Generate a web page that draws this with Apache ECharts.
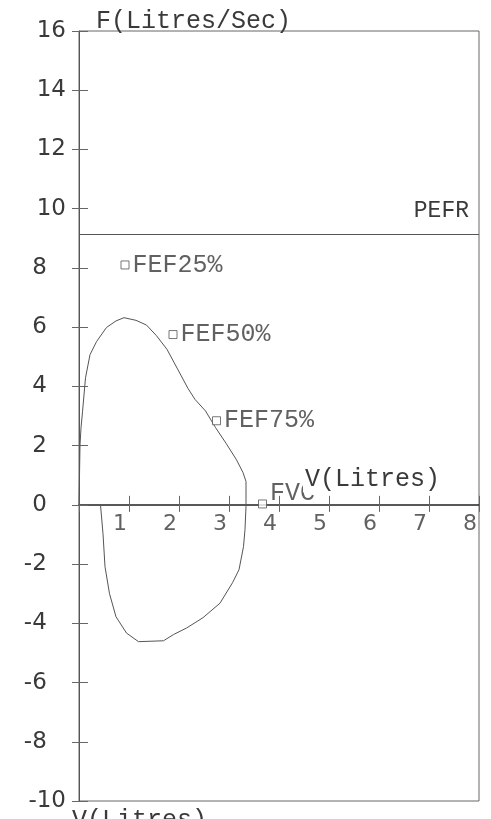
<!DOCTYPE html>
<html>
<head>
<meta charset="utf-8">
<script src="https://cdn.jsdelivr.net/npm/echarts@6.0.0/dist/echarts.min.js"></script>
<style>
  html, body { margin: 0; background: #fff; }
  #chart { width: 491px; height: 819px; }
</style>
</head>
<body>
<div id="chart"></div>
<script>
// expiratory limb of the loop (volume in litres, flow in litres/sec)
const expVolume = [0, 0.01, 0.02, 0.04, 0.07, 0.13, 0.22, 0.35, 0.55, 0.74, 0.90, 1.14, 1.35, 1.55, 1.76, 1.97, 2.18, 2.32, 2.53, 2.73, 2.94, 3.15, 3.28, 3.34, 3.34];
const expFlow = [0, 1.0, 2.02, 2.6, 3.14, 4.29, 5.07, 5.51, 5.99, 6.21, 6.32, 6.23, 6.07, 5.71, 5.25, 4.59, 3.93, 3.56, 3.17, 2.61, 2.08, 1.52, 1.09, 0.79, 0.08];

// inspiratory limb, drawn back from the end of expiration
const insVolume = [3.34, 3.32, 3.29, 3.20, 3.07, 2.82, 2.48, 2.15, 1.89, 1.69, 1.19, 0.95, 0.74, 0.61, 0.52, 0.48, 0.43];
const insFlow = [-0.05, -0.83, -1.41, -2.19, -2.63, -3.32, -3.81, -4.16, -4.38, -4.59, -4.62, -4.33, -3.78, -3.0, -2.09, -0.98, 0];

const markerNames = ["FEF25%", "FEF50%", "FEF75%", "FVC"];
const markerVolume = [0.92, 1.88, 2.75, 3.67];
const markerFlow = [8.1, 5.75, 2.84, 0.03];

const pefrFlow = 9.13;

const xTicks = [0, 1, 2, 3, 4, 5, 6, 7, 8];
const yTicks = [-10, -8, -6, -4, -2, 0, 2, 4, 6, 8, 10, 12, 14, 16];

const mono = '"Liberation Mono", "Courier New", monospace';
const sans = '"DejaVu Sans", sans-serif';
const ink = "#3a3a3a";

const loop = expVolume
  .map((v, i) => [v, expFlow[i]])
  .concat(insVolume.map((v, i) => [v, insFlow[i]]));

const markers = markerNames.map((name, i) => ({
  name,
  value: [markerVolume[i], markerFlow[i]],
  label: name === "FVC" ? { offset: [0, -11] } : undefined,
}));

// volume tick labels hang under the zero line, not under the frame
const xTickLabels = xTicks.filter((v) => v > 0).map((v) => [v, 0]);

const chart = echarts.init(document.getElementById("chart"));

const axisRange = (ticks) => ({
  type: "value",
  min: ticks[0],
  max: ticks[ticks.length - 1],
  interval: ticks[1] - ticks[0],
  splitLine: { show: false },
});

chart.setOption({
  backgroundColor: "#fff",
  animation: false,
  grid: {
    left: 79,
    right: 12,
    top: 31,
    bottom: 18,
    show: true,
    borderColor: "#666",
    borderWidth: 1,
    containLabel: false,
    outerBoundsMode: "none",
  },
  xAxis: [
    {
      ...axisRange(xTicks),
      axisLine: { onZero: true, lineStyle: { color: "#222", width: 1.5 } },
      axisTick: { show: true, inside: true, length: 9, lineStyle: { color: "#666" } },
      axisLabel: { show: false },
    },
    {
      ...axisRange(xTicks),
      position: "bottom",
      axisLine: { show: false, onZero: true },
      axisTick: { show: true, length: 7, lineStyle: { color: "#666" } },
      axisLabel: { show: false },
    },
  ],
  yAxis: [
    {
      ...axisRange(yTicks),
      axisLine: { show: true, lineStyle: { color: "#555", width: 1 } },
      axisTick: { show: true, length: 7, lineStyle: { color: "#666" } },
      axisLabel: {
        margin: 13,
        color: ink,
        fontFamily: sans,
        fontSize: 23,
        // single digits sit one column further left, like the printout
        formatter: (v) => (Math.abs(v) < 10 ? v + "\u2007\u2009" : String(v)),
      },
    },
    {
      ...axisRange(yTicks),
      position: "left",
      axisLine: { show: false },
      axisTick: { show: true, inside: true, length: 9, lineStyle: { color: "#666" } },
      axisLabel: { show: false },
    },
  ],
  graphic: [
    {
      type: "text",
      z: 100,
      x: 96,
      y: 21,
      style: { text: "F(Litres/Sec)", font: "25px " + mono, fill: ink, align: "left", verticalAlign: "middle" },
    },
    {
      type: "text",
      z: 100,
      x: 303,
      y: 479,
      style: {
        text: "V(Litres)",
        font: "25px " + mono,
        fill: ink,
        align: "left",
        verticalAlign: "middle",
        backgroundColor: "#fff",
        padding: [0, 2, 2, 2],
      },
    },
    {
      type: "text",
      z: 100,
      x: 72,
      y: 820,
      style: { text: "V(Litres)", font: "25px " + mono, fill: ink, align: "left", verticalAlign: "middle" },
    },
  ],
  series: [
    {
      type: "line",
      data: loop,
      symbol: "none",
      showSymbol: false,
      lineStyle: { color: "#555", width: 1 },
      markLine: {
        silent: true,
        symbol: ["none", "none"],
        lineStyle: { color: "#555", type: "solid", width: 1 },
        label: {
          position: "insideEndTop",
          distance: [10, 12],
          formatter: "PEFR",
          color: ink,
          fontFamily: mono,
          fontSize: 23,
        },
        data: [{ yAxis: pefrFlow }],
      },
    },
    {
      type: "scatter",
      data: markers,
      symbol: "rect",
      symbolSize: 8,
      itemStyle: { color: "#fff", borderColor: "#555", borderWidth: 1 },
      label: {
        show: true,
        position: "right",
        distance: 3,
        formatter: "{b}",
        color: ink,
        fontFamily: mono,
        fontSize: 25,
      },
      z: 5,
    },
    {
      type: "scatter",
      silent: true,
      data: xTickLabels,
      symbolSize: 1,
      itemStyle: { color: "transparent" },
      label: {
        show: true,
        position: "bottom",
        distance: 8,
        offset: [-9, 0],
        formatter: (p) => String(p.value[0]),
        color: ink,
        fontFamily: sans,
        fontSize: 22,
      },
      z: 4,
    },
  ],
});
</script>
</body>
</html>
